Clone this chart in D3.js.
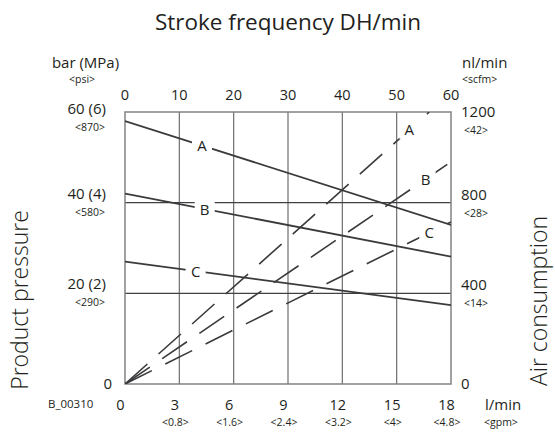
<!DOCTYPE html>
<html lang="en">
<head>
<meta charset="utf-8" />
<title>Stroke frequency chart</title>
<script src="https://cdn.jsdelivr.net/npm/d3@7"></script>
<style>
  body { margin: 0; background: #fff; }
  svg text { font-family: "Open Sans", "Noto Sans", sans-serif; fill: #231f20; }
</style>
</head>
<body>
<div id="chart"></div>
<script>
// ---- data ----
const flowTicks = [0, 3, 6, 9, 12, 15, 18];            // l/min
const gpmLabels = ["", "<0.8>", "<1.6>", "<2.4>", "<3.2>", "<4>", "<4.8>"];
const strokeTicks = [0, 10, 20, 30, 40, 50, 60];       // DH/min
const pressureTicks = [0, 20, 40, 60];                 // bar
const pressureLabels = ["0", "20 (2)", "40 (4)", "60 (6)"];
const psiLabels = ["", "<290>", "<580>", "<870>"];
const airTicks = [0, 400, 800, 1200];                  // nl/min
const scfmLabels = ["", "<14>", "<28>", "<42>"];

const pumps = ["A", "B", "C"];
// product pressure (bar) vs flow (l/min) - solid lines
const pressureA = [[0, 58], [18, 35.1]];
const pressureB = [[0, 42], [18, 28.1]];
const pressureC = [[0, 27], [18, 17.4]];
// air consumption (nl/min) vs flow (l/min) - dashed lines
const airA = [[0, 0], [16.8, 1200]];
const airB = [[0, 0], [18, 980]];
const airC = [[0, 0], [18, 715]];
// where the letters sit along the lines (flow value)
const pressureLabelAt = [4.25, 4.4, 3.9];
const airLabelAt = [15.7, 16.6, 16.8];

const W = 555, H = 434;
const svg = d3.select("#chart").append("svg").attr("width", W).attr("height", H);

const x = d3.scaleLinear().domain([0, 18]).range([125, 451]);
const xTop = d3.scaleLinear().domain([0, 60]).range([125, 451]);
const yP = d3.scaleLinear().domain([0, 60]).range([384, 112]);
const yAir = d3.scaleLinear().domain([0, 1200]).range([384, 112]);

svg.append("defs").append("clipPath").attr("id", "plot")
  .append("rect").attr("x", 125).attr("y", 112).attr("width", 326).attr("height", 272);

// grid
svg.append("g").selectAll("line").data(strokeTicks.slice(1, -1)).join("line")
  .attr("x1", d => xTop(d)).attr("x2", d => xTop(d))
  .attr("y1", 112).attr("y2", 384)
  .attr("stroke", "#6d6e71").attr("stroke-width", 1.2);
svg.append("g").selectAll("line").data(pressureTicks.slice(1, -1)).join("line")
  .attr("x1", 125).attr("x2", 451)
  .attr("y1", d => yP(d)).attr("y2", d => yP(d))
  .attr("stroke", "#414042").attr("stroke-width", 1.2);

// frame
svg.append("rect").attr("x", 125).attr("y", 112).attr("width", 326).attr("height", 272)
  .attr("fill", "none").attr("stroke", "#808285").attr("stroke-width", 1.5);

const line = (ys) => d3.line().x(d => x(d[0])).y(d => ys(d[1]));
const lineColor = "#3a3a3c";

const plot = svg.append("g").attr("clip-path", "url(#plot)");
[pressureA, pressureB, pressureC].forEach(s => {
  plot.append("path").attr("d", line(yP)(s))
    .attr("fill", "none").attr("stroke", lineColor).attr("stroke-width", 1.8);
});
[airA, airB, airC].forEach(s => {
  plot.append("path").attr("d", line(yAir)(s))
    .attr("fill", "none").attr("stroke", lineColor).attr("stroke-width", 1.6)
    .attr("stroke-dasharray", "30,15");
});

// line letters with white backing
function interp(s, fx) {
  const [a, b] = s;
  return a[1] + (b[1] - a[1]) * (fx - a[0]) / (b[0] - a[0]);
}
function letter(px, py, txt) {
  svg.append("rect").attr("x", px - 10).attr("y", py - 9).attr("width", 20).attr("height", 18)
    .attr("fill", "#fff");
  svg.append("text").attr("x", px).attr("y", py + 5.5).attr("text-anchor", "middle")
    .attr("font-size", 15).text(txt);
}
[pressureA, pressureB, pressureC].forEach((s, i) => {
  letter(x(pressureLabelAt[i]), yP(interp(s, pressureLabelAt[i])), pumps[i]);
});
[airA, airB, airC].forEach((s, i) => {
  letter(x(airLabelAt[i]), yAir(interp(s, airLabelAt[i])), pumps[i]);
});

// top axis: stroke frequency
svg.append("g").selectAll("text").data(strokeTicks).join("text")
  .attr("x", d => xTop(d)).attr("y", 100).attr("text-anchor", "middle")
  .attr("font-size", 14.5).text(d => d);

// bottom axis: flow
const bottom = svg.append("g");
bottom.selectAll("text.main").data(flowTicks).join("text").attr("class", "main")
  .attr("x", d => x(d) - 4.5).attr("y", 410).attr("text-anchor", "middle")
  .attr("font-size", 14.5).text(d => d);
bottom.selectAll("text.sub").data(flowTicks).join("text").attr("class", "sub")
  .attr("x", d => x(d) - 4).attr("y", 426).attr("text-anchor", "middle")
  .attr("font-size", 10.5).text((d, i) => gpmLabels[i]);

// left axis: pressure
const left = svg.append("g");
pressureTicks.forEach((d, i) => {
  const yy = yP(d);
  const off = d === 0 ? 5 : (d === 60 ? 2 : -4);
  left.append("text").attr("x", d === 0 ? 112 : 106).attr("y", yy + off)
    .attr("text-anchor", "end").attr("font-size", 15).text(pressureLabels[i]);
  if (psiLabels[i]) {
    left.append("text").attr("x", 105).attr("y", yy + off + 17)
      .attr("text-anchor", "end").attr("font-size", 10.5).text(psiLabels[i]);
  }
});

// right axis: air consumption
const right = svg.append("g");
airTicks.forEach((d, i) => {
  const yy = yAir(d);
  const off = d === 0 ? 5 : (d === 1200 ? 5 : -3);
  right.append("text").attr("x", 461).attr("y", yy + off)
    .attr("font-size", 15).text(d);
  if (scfmLabels[i]) {
    right.append("text").attr("x", 464).attr("y", yy + off + 17)
      .attr("font-size", 10.5).text(scfmLabels[i]);
  }
});

// unit labels
svg.append("text").attr("x", 85.5).attr("y", 68).attr("text-anchor", "middle")
  .attr("font-size", 15).text("bar (MPa)");
svg.append("text").attr("x", 82).attr("y", 83).attr("text-anchor", "middle")
  .attr("font-size", 10.5).text("<psi>");
svg.append("text").attr("x", 462).attr("y", 68).attr("font-size", 15).text("nl/min");
svg.append("text").attr("x", 462).attr("y", 83).attr("font-size", 10.5).text("<scfm>");
svg.append("text").attr("x", 485).attr("y", 410).attr("font-size", 15).text("l/min");
svg.append("text").attr("x", 484).attr("y", 426).attr("font-size", 10.5).text("<gpm>");
svg.append("text").attr("x", 48).attr("y", 408).attr("font-size", 11.5).text("B_00310");

// titles
svg.append("text").attr("x", 288).attr("y", 30).attr("text-anchor", "middle")
  .attr("font-size", 22.5).text("Stroke frequency DH/min");
svg.append("text").attr("transform", "translate(28,300) rotate(-90)")
  .attr("text-anchor", "middle").attr("font-size", 23).attr("font-weight", 300)
  .text("Product pressure");
svg.append("text").attr("transform", "translate(547,301) rotate(-90)")
  .attr("text-anchor", "middle").attr("font-size", 23).attr("font-weight", 300)
  .text("Air consumption");
</script>
</body>
</html>
